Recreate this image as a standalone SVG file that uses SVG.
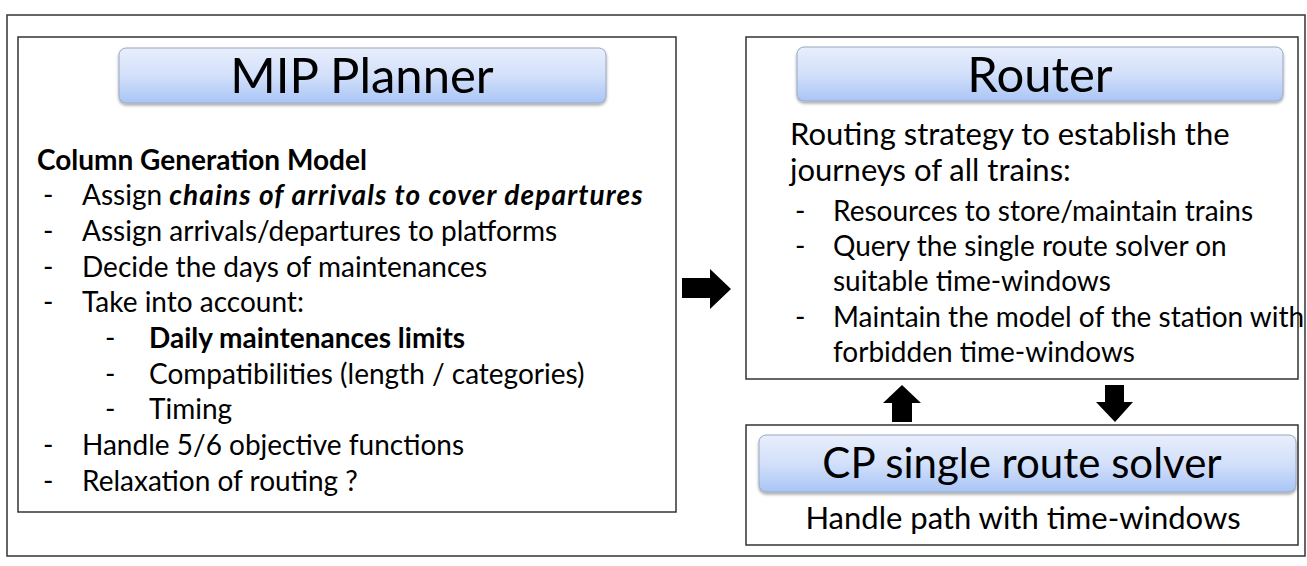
<svg xmlns="http://www.w3.org/2000/svg" width="1307" height="566" viewBox="0 0 1307 566">
<defs>
<linearGradient id="btn" x1="0" y1="0" x2="0" y2="1">
<stop offset="0" stop-color="#e8eefc"/>
<stop offset="0.5" stop-color="#d3e0fa"/>
<stop offset="1" stop-color="#a9c5f6"/>
</linearGradient>
<filter id="sh" x="-5%" y="-20%" width="110%" height="150%">
<feDropShadow dx="0" dy="2" stdDeviation="1.5" flood-color="#000" flood-opacity="0.35"/>
</filter>
</defs>
<style>
.frame{fill:#fff;stroke:#404040;stroke-width:1.6}
.box{fill:#fff;stroke:#333;stroke-width:1.5}
.btn{fill:url(#btn);stroke:#9aa8c0;stroke-width:1;filter:url(#sh)}
.t{font-family:Lato,"Open Sans",sans-serif;fill:#000}
.title{font-size:49px;text-anchor:middle}
.title.small{font-size:42px}
.body{font-size:28px}
.rbody{font-size:31px}
.b{font-weight:bold}
.arrow{fill:#000}
</style>
<rect class="frame" x="7" y="15" width="1298" height="541"/>
<g id="mip">
<rect class="box" x="18" y="37" width="658" height="475"/>
<rect class="btn" x="119" y="48" width="487" height="55" rx="7"/>
<text class="t title" x="362" y="93">MIP Planner</text>
<text class="t body b" x="37" y="170">Column Generation Model</text>
<g class="t body">
<text x="43" y="205">-</text><text x="82" y="205">Assign <tspan font-weight="bold" font-style="italic" letter-spacing="1.1">chains of arrivals to cover departures</tspan></text>
<text x="43" y="241">-</text><text x="82" y="241">Assign arrivals/departures to platforms</text>
<text x="43" y="277">-</text><text x="82" y="277">Decide the days of maintenances</text>
<text x="43" y="312">-</text><text x="82" y="312">Take into account:</text>
<text x="105" y="348">-</text><text x="149" y="348" font-weight="bold">Daily maintenances limits</text>
<text x="105" y="384">-</text><text x="149" y="384">Compatibilities (length / categories)</text>
<text x="105" y="419">-</text><text x="149" y="419">Timing</text>
<text x="43" y="455">-</text><text x="82" y="455">Handle 5/6 objective functions</text>
<text x="43" y="491">-</text><text x="82" y="491">Relaxation of routing ?</text>
</g>
</g>
<g id="router">
<rect class="box" x="746" y="37" width="552" height="342"/>
<rect class="btn" x="797" y="47" width="486" height="54" rx="7"/>
<text class="t title" x="1040" y="92">Router</text>
<g class="t rbody">
<text x="790" y="145">Routing strategy to establish the</text>
<text x="790" y="181">journeys of all trains:</text>
</g>
<g class="t body">
<text x="795" y="221">-</text><text x="833" y="221">Resources to store/maintain trains</text>
<text x="795" y="256">-</text><text x="833" y="256">Query the single route solver on</text>
<text x="833" y="291">suitable time-windows</text>
<text x="795" y="327">-</text><text x="833" y="327">Maintain the model of the station with</text>
<text x="833" y="362">forbidden time-windows</text>
</g>
</g>
<g id="cp">
<rect class="box" x="746" y="425" width="552" height="120"/>
<rect class="btn" x="759" y="435" width="537" height="57" rx="7"/>
<text class="t title small" x="1022" y="478">CP single route solver</text>
<text class="t rbody" x="1023" y="529" text-anchor="middle">Handle path with time-windows</text>
</g>
<g id="connectors">
<polygon class="arrow" points="682,278 710,278 710,269 731,289 710,309 710,298 682,298"/>
<polygon class="arrow" points="892,422 892,403 883,403 902,385 921,403 912,403 912,422"/>
<polygon class="arrow" points="1105,385 1124,385 1124,402 1133,402 1115,422 1096,402 1105,402"/>
</g>
</svg>
